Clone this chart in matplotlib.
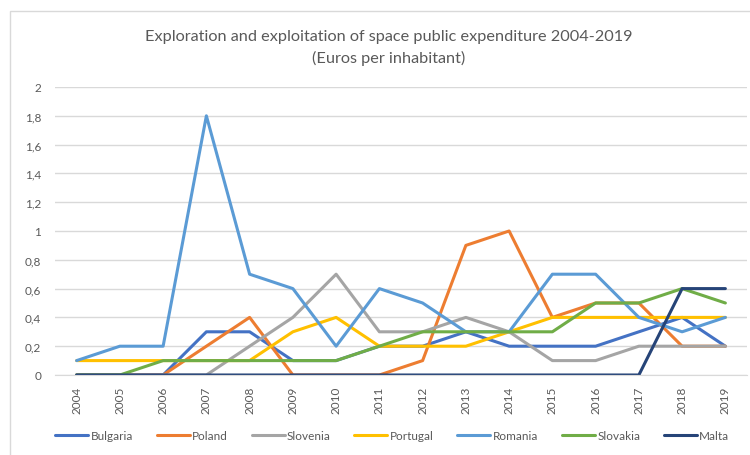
import matplotlib.pyplot as plt
from matplotlib.patches import Rectangle
from matplotlib.ticker import FuncFormatter

years = [str(y) for y in range(2004, 2020)]

bulgaria = [0, 0, 0, 0.3, 0.3, 0.1, 0.1, 0.2, 0.2, 0.3, 0.2, 0.2, 0.2, 0.3, 0.4, 0.2]
poland = [0, 0, 0, 0.2, 0.4, 0, 0, 0, 0.1, 0.9, 1.0, 0.4, 0.5, 0.5, 0.2, 0.2]
slovenia = [0, 0, 0, 0, 0.2, 0.4, 0.7, 0.3, 0.3, 0.4, 0.3, 0.1, 0.1, 0.2, 0.2, 0.2]
portugal = [0.1, 0.1, 0.1, 0.1, 0.1, 0.3, 0.4, 0.2, 0.2, 0.2, 0.3, 0.4, 0.4, 0.4, 0.4, 0.4]
romania = [0.1, 0.2, 0.2, 1.8, 0.7, 0.6, 0.2, 0.6, 0.5, 0.3, 0.3, 0.7, 0.7, 0.4, 0.3, 0.4]
slovakia = [0, 0, 0.1, 0.1, 0.1, 0.1, 0.1, 0.2, 0.3, 0.3, 0.3, 0.3, 0.5, 0.5, 0.6, 0.5]
malta = [0, 0, 0, 0, 0, 0, 0, 0, 0, 0, 0, 0, 0, 0, 0.6, 0.6]

series = [
    ("Bulgaria", bulgaria, "#4472C4"),
    ("Poland", poland, "#ED7D31"),
    ("Slovenia", slovenia, "#A5A5A5"),
    ("Portugal", portugal, "#FFC000"),
    ("Romania", romania, "#5B9BD5"),
    ("Slovakia", slovakia, "#70AD47"),
    ("Malta", malta, "#264478"),
]

plt.rcParams['font.family'] = ['Lato', 'DejaVu Sans']
text_col = "#595959"

fig = plt.figure(figsize=(7.5, 4.56), dpi=100)
# light outer frame of the chart area
fig.patches.append(Rectangle((10 / 750, -0.01), 1.0, 1 - 12 / 456 + 0.01,
                             transform=fig.transFigure, fill=False,
                             edgecolor="#D9D9D9", linewidth=1.0))

ax = fig.add_axes([55 / 750, 1 - 376 / 456, (747 - 55) / 750, (376 - 88) / 456])
x = list(range(len(years)))
for name, vals, col in series:
    ax.plot(x, vals, color=col, linewidth=2.2, label=name, solid_capstyle='round')

ax.set_xlim(-0.5, len(years) - 0.5)
ax.set_ylim(0, 2)
ax.set_yticks([i * 0.2 for i in range(11)])
ax.yaxis.set_major_formatter(FuncFormatter(
    lambda v, p: "0" if v == 0 else ("%g" % round(v, 1)).replace(".", ",")))
ax.set_xticks(x)
ax.set_xticklabels(years, rotation=90)
ax.grid(axis='y', color="#D9D9D9", linewidth=1.0)
ax.set_axisbelow(True)
for s in ["top", "right", "left"]:
    ax.spines[s].set_visible(False)
ax.spines["bottom"].set_color("#D9D9D9")
ax.tick_params(axis='both', length=0, colors=text_col, labelsize=8.5)
ax.tick_params(axis='y', pad=10)
ax.tick_params(axis='x', pad=8)

fig.text(0.518, 1 - 37 / 456, "Exploration and exploitation of space public expenditure 2004-2019",
         ha='center', va='center', fontsize=11.7, color=text_col)
fig.text(0.518, 1 - 58 / 456, "(Euros per inhabitant)",
         ha='center', va='center', fontsize=11.7, color=text_col)

fig.legend(loc='center', bbox_to_anchor=(0.523, 1 - 437 / 456), ncol=7, frameon=False,
           fontsize=8.5, handlelength=2.8, handletextpad=0.2, columnspacing=2.0,
           labelcolor=text_col)

fig.savefig("out.png", dpi=100)
